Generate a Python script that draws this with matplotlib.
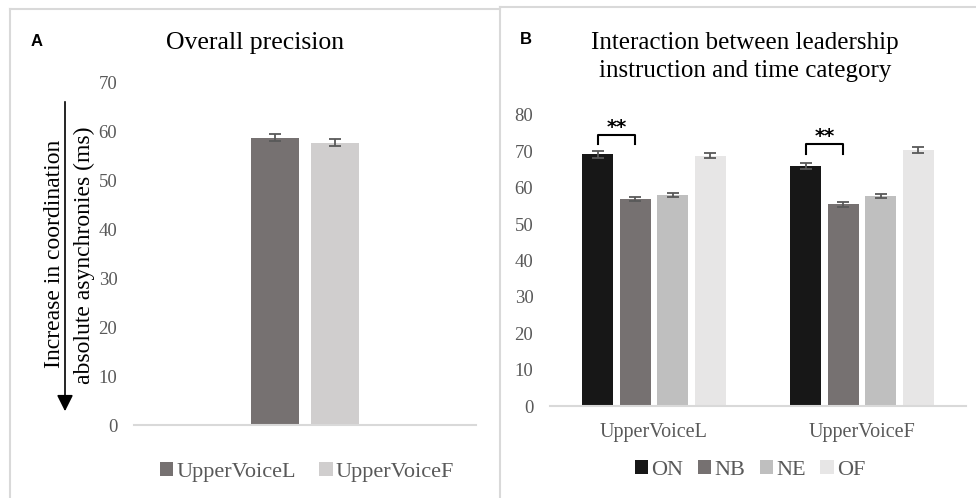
import matplotlib
matplotlib.use("Agg")
import matplotlib.pyplot as plt
from matplotlib.patches import Patch, FancyArrowPatch
from matplotlib.lines import Line2D
import numpy as np

# ---- data ----
left_series = ["UpperVoiceL", "UpperVoiceF"]
left_values = [58.7, 57.7]
left_err = [0.7, 0.7]
left_colors = ["#767171", "#d0cece"]
left_yticks = [0, 10, 20, 30, 40, 50, 60, 70]

right_categories = ["UpperVoiceL", "UpperVoiceF"]
right_series = ["ON", "NB", "NE", "OF"]
right_values = {
    "ON": [69.2, 66.0],
    "NB": [56.9, 55.4],
    "NE": [58.0, 57.7],
    "OF": [68.8, 70.3],
}
right_err = {
    "ON": [0.9, 0.9],
    "NB": [0.6, 0.6],
    "NE": [0.6, 0.6],
    "OF": [0.7, 0.8],
}
right_colors = ["#171717", "#767171", "#bfbfbf", "#e7e6e6"]
right_yticks = [0, 10, 20, 30, 40, 50, 60, 70, 80]
bracket_top = [74.5, 72.0]
bracket_bottom = [72.0, 69.2]

W, H = 976, 498
fig = plt.figure(figsize=(W / 100, H / 100), dpi=100)
serif = "Liberation Serif"
gray = "#595959"
axis_gray = "#d9d9d9"

def px_axes(x0, x1, ytop, ybot):
    return fig.add_axes([x0 / W, (H - ybot) / H, (x1 - x0) / W, (ybot - ytop) / H])

def style(ax, ymax, yticks):
    ax.set_ylim(0, ymax)
    ax.set_yticks(yticks)
    for s in ["top", "right", "left"]:
        ax.spines[s].set_visible(False)
    ax.spines["bottom"].set_color(axis_gray)
    ax.spines["bottom"].set_linewidth(1.5)
    ax.tick_params(axis="y", length=0, labelsize=13.5, labelcolor=gray, pad=12)
    ax.tick_params(axis="x", length=0)
    for lab in ax.get_yticklabels():
        lab.set_fontfamily(serif)

# ---- panel A ----
axA = px_axes(134, 476, 82.3, 425)
style(axA, 70, left_yticks)
axA.set_xlim(0, 1)
bw = 0.142
offs = [-0.0877, 0.0877]
for i, (name, v, e, c) in enumerate(zip(left_series, left_values, left_err, left_colors)):
    axA.bar(0.5 + offs[i], v, width=bw, color=c, label=name,
            yerr=e, error_kw=dict(ecolor=gray, elinewidth=1.3, capsize=4, capthick=1.3))
axA.set_xticks([])

# ---- panel B ----
axB = px_axes(550, 966, 115, 406)
style(axB, 80, right_yticks)
axB.set_xlim(0, 2)
centers = np.array([0.5, 1.5])
bwB = 0.149
pitch = 0.181
for j, (s, c) in enumerate(zip(right_series, right_colors)):
    xs = centers + (j - 1.5) * pitch
    axB.bar(xs, right_values[s], width=bwB, color=c, label=s,
            yerr=right_err[s], error_kw=dict(ecolor=gray, elinewidth=1.3, capsize=4, capthick=1.3))
axB.set_xticks(centers)
axB.set_xticklabels(right_categories, fontfamily=serif, fontsize=14.5, color=gray)
axB.tick_params(axis="x", pad=12)

# significance brackets between ON and NB
for k in range(2):
    x0 = centers[k] - 1.5 * pitch
    x1 = centers[k] - 0.5 * pitch
    axB.plot([x0, x0, x1, x1], [bracket_bottom[k], bracket_top[k], bracket_top[k], bracket_bottom[k]],
             color="black", lw=1.5, clip_on=False)
    axB.text((x0 + x1) / 2, bracket_top[k] + 2.0, "**", ha="center", va="center",
             fontsize=14, fontweight="bold", fontfamily="DejaVu Sans", color="black")

# ---- titles, labels ----
fig.text(255 / W, 1 - 43 / H, "Overall precision", ha="center", va="center",
         fontsize=18.5, fontfamily=serif)
fig.text(745 / W, 1 - 57 / H, "Interaction between leadership\ninstruction and time category",
         ha="center", va="center", fontsize=18, fontfamily=serif, linespacing=1.3)
fig.text(37 / W, 1 - 41 / H, "A", ha="center", va="center", fontsize=12,
         fontweight="bold", fontfamily="Liberation Sans")
fig.text(526 / W, 1 - 40 / H, "B", ha="center", va="center", fontsize=12,
         fontweight="bold", fontfamily="Liberation Sans")

fig.text(55 / W, 1 - 254 / H, "Increase in coordination", rotation=90, ha="center",
         va="center", fontsize=17, fontfamily=serif)
fig.text(84 / W, 1 - 255 / H, "absolute asynchronies (ms)", rotation=90, ha="center",
         va="center", fontsize=17, fontfamily=serif)
fig.add_artist(FancyArrowPatch(
    (65 / W, 1 - 99 / H), (65 / W, 1 - 414 / H), transform=fig.transFigure,
    arrowstyle="-|>,head_length=0.7,head_width=0.35", color="black", lw=1.2,
    mutation_scale=14))

# ---- legends ----
hA = [Patch(facecolor=c, edgecolor="none") for c in left_colors]
legA = fig.legend(hA, left_series, loc="center", bbox_to_anchor=(307 / W, 1 - 472 / H),
                  ncol=2, frameon=False, prop=dict(family=serif, size=16),
                  handlelength=0.6, handleheight=0.6, handletextpad=0.15, columnspacing=1.05)
for t in legA.get_texts():
    t.set_color(gray)
hB = [Patch(facecolor=c, edgecolor="none") for c in right_colors]
legB = fig.legend(hB, right_series, loc="center", bbox_to_anchor=(750 / W, 1 - 470 / H),
                  ncol=4, frameon=False, prop=dict(family=serif, size=16),
                  handlelength=0.6, handleheight=0.6, handletextpad=0.15, columnspacing=0.65)
for t in legB.get_texts():
    t.set_color(gray)

# ---- panel frames ----
fc = "#d9d9d9"
for (xa, ya, xb, yb) in [(10, 9, 10, 498), (10, 9, 500, 9), (500, 7, 500, 498), (500, 7, 976, 7)]:
    fig.add_artist(Line2D([xa / W, xb / W], [1 - ya / H, 1 - yb / H], transform=fig.transFigure,
                          color=fc, lw=1.5))

fig.savefig("out.png", dpi=100)
